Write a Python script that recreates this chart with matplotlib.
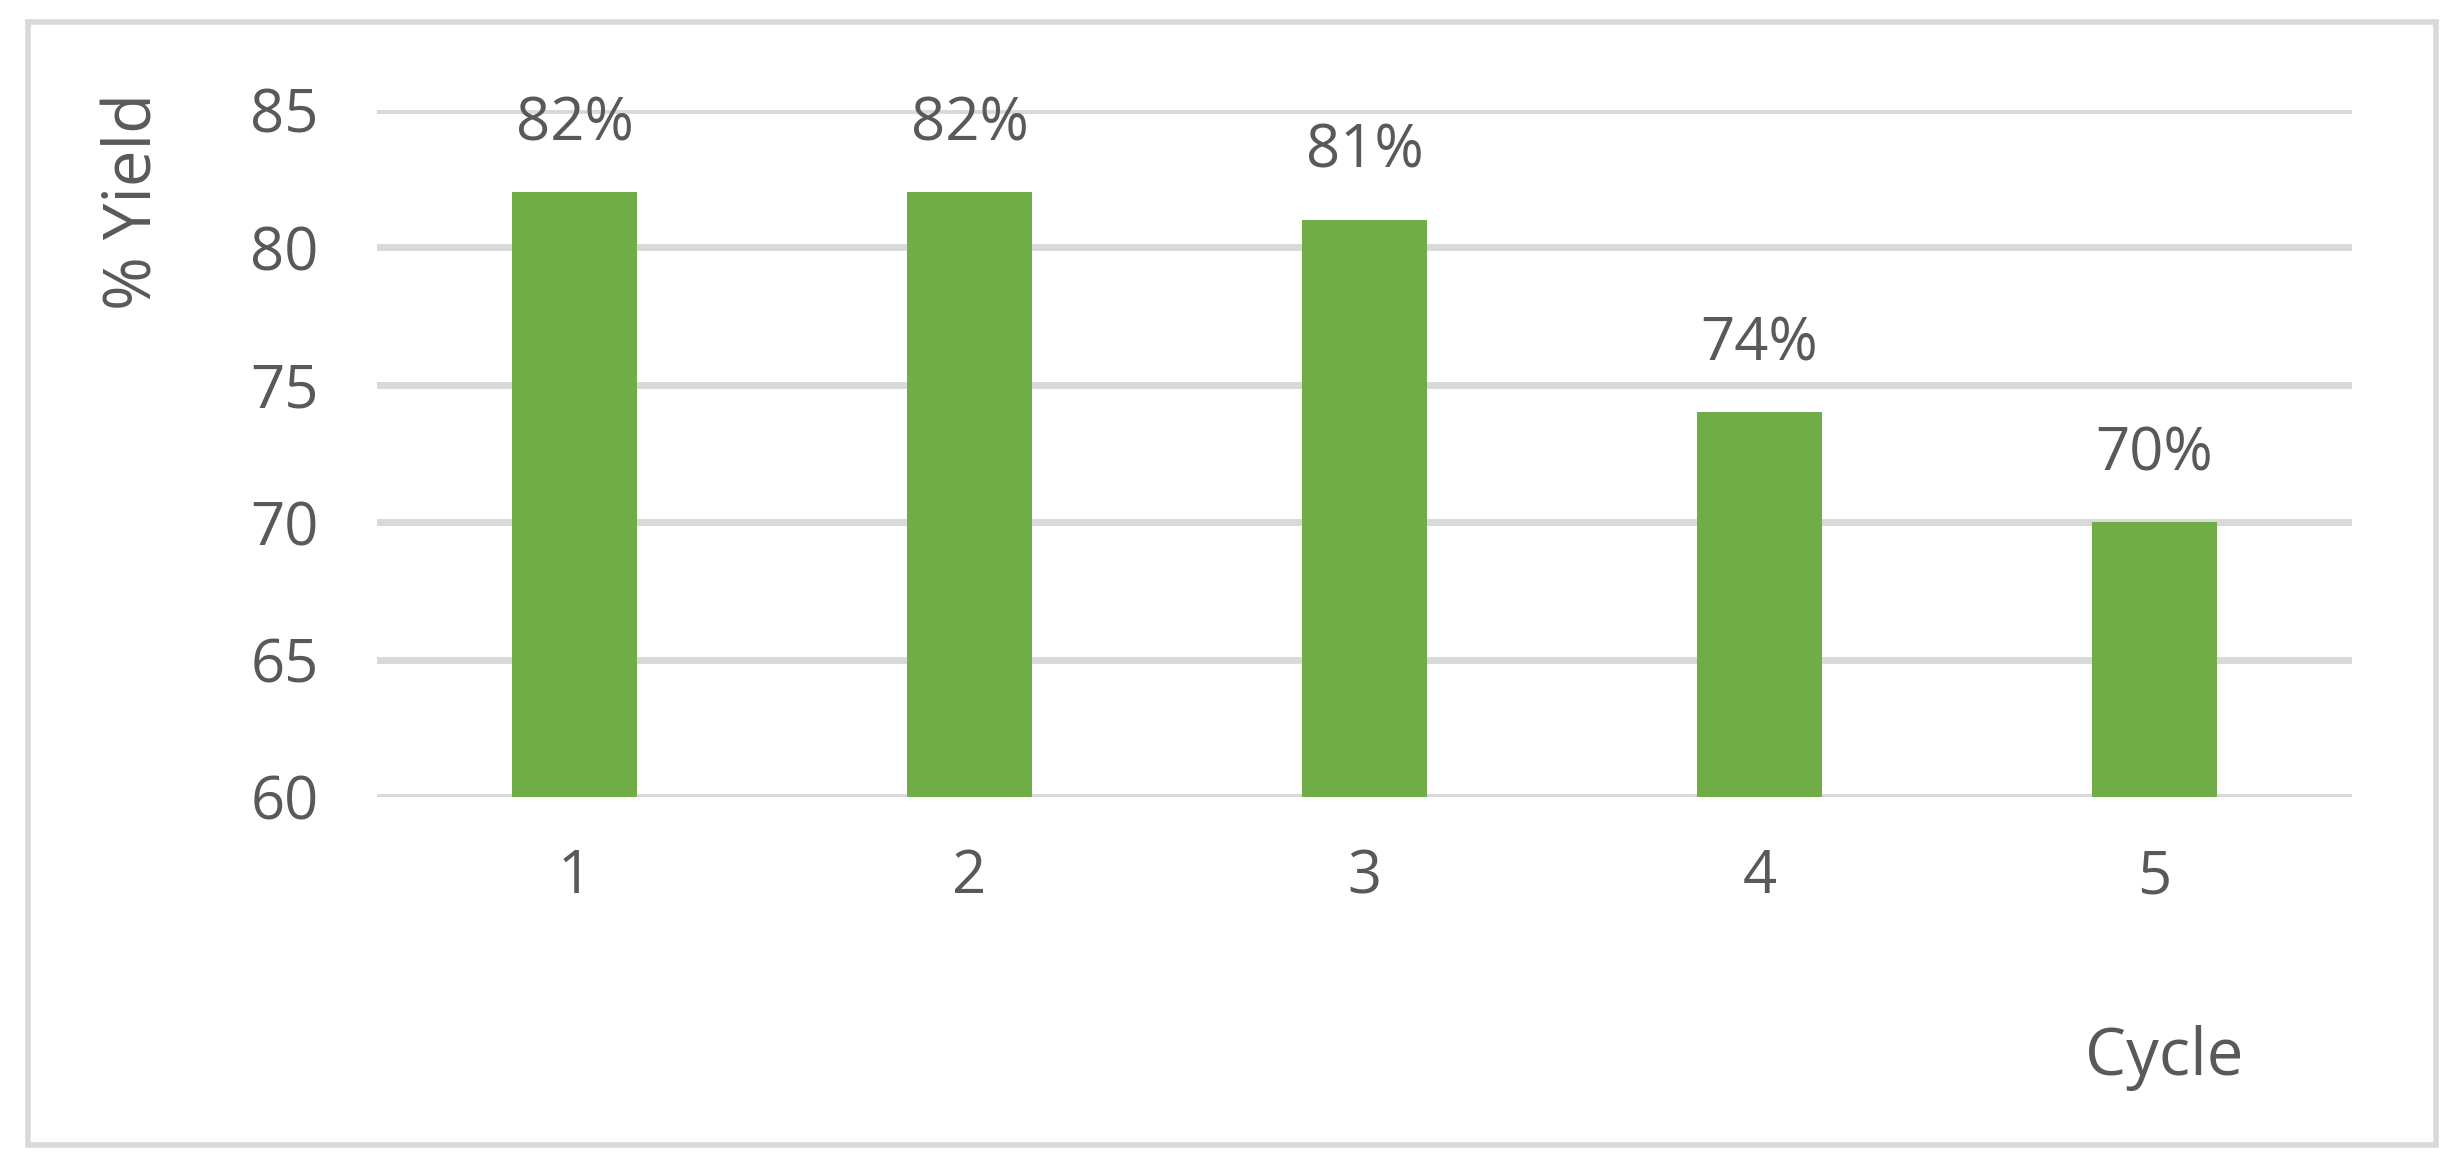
import numpy as np
import matplotlib
matplotlib.use('Agg')
import matplotlib.pyplot as plt
from matplotlib.patches import Rectangle

cycles = ['1', '2', '3', '4', '5']
yields = [82, 82, 81, 74, 70]
yticks = [60, 65, 70, 75, 80, 85]

txt = '#595959'
grid = '#D9D9D9'
green = '#70AD47'
plt.rcParams['font.family'] = ['Open Sans', 'DejaVu Sans']

W, H = 2464, 1170
fig = plt.figure(figsize=(W/100, H/100), dpi=100)
ax = fig.add_axes([377/W, 1-797/H, (2352-377)/W, (797-110)/H])

x = np.arange(len(cycles))
ax.bar(x, yields, width=0.316, color=green, zorder=3)
ax.set_xlim(-0.5, len(cycles)-0.5)
ax.set_ylim(60, 85)
ax.set_yticks(yticks)
ax.set_xticks(x)
ax.set_xticklabels(cycles)
for v in yticks:
    ax.axhline(v, color=grid, lw=5, zorder=1)
for s in ax.spines.values():
    s.set_visible(False)
ax.tick_params(length=0, labelsize=43, labelcolor=txt)
ax.tick_params(axis='y', pad=42)
ax.tick_params(axis='x', pad=36)

for xi, v in zip(x, yields):
    ax.annotate(f'{v}%', (xi, v), xytext=(0, 38), textcoords='offset pixels',
                ha='center', va='bottom', fontsize=43, color=txt)

fig.text(134/W, 1-201/H, '% Yield', rotation=90, ha='center', va='center',
         fontsize=47, color=txt)
fig.text(2164/W, 1-1058/H, 'Cycle', ha='center', va='center',
         fontsize=47, color=txt)

fig.add_artist(Rectangle((28/W, 1-1145/H), (2436-28)/W, (1145-22)/H,
                         transform=fig.transFigure, fill=False,
                         edgecolor=grid, lw=4))

fig.savefig('out.png', dpi=100)
